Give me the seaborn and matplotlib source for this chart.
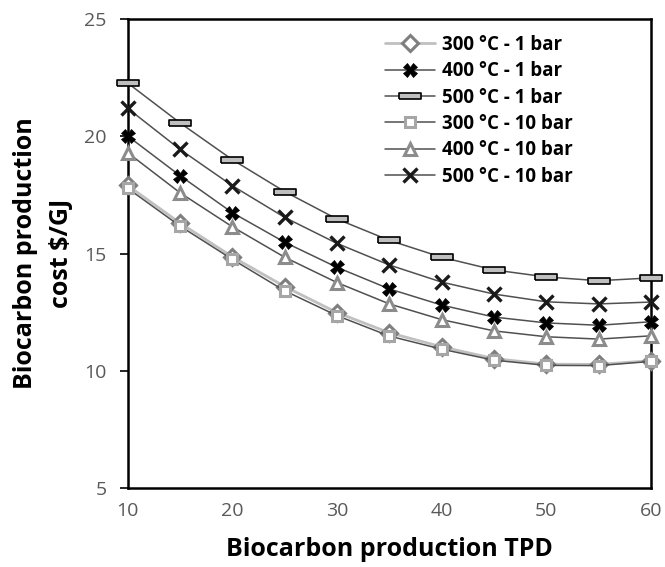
import matplotlib
matplotlib.use("Agg")
import matplotlib.pyplot as plt
import seaborn as sns
import numpy as np

# ---- data ----
tpd = [10, 15, 20, 25, 30, 35, 40, 45, 50, 55, 60]
cost_300_1 = [17.90, 16.30, 14.86, 13.59, 12.48, 11.62, 11.02, 10.52, 10.28, 10.27, 10.43]
cost_400_1 = [20.01, 18.32, 16.74, 15.48, 14.41, 13.49, 12.80, 12.29, 12.04, 11.94, 12.09]
cost_500_1 = [22.27, 20.57, 19.00, 17.64, 16.47, 15.56, 14.84, 14.30, 14.00, 13.84, 13.96]
cost_300_10 = [17.78, 16.17, 14.75, 13.41, 12.35, 11.48, 10.92, 10.45, 10.23, 10.22, 10.40]
cost_400_10 = [19.30, 17.59, 16.14, 14.84, 13.76, 12.85, 12.18, 11.70, 11.45, 11.35, 11.49]
cost_500_10 = [21.19, 19.44, 17.89, 16.54, 15.43, 14.51, 13.78, 13.27, 12.94, 12.85, 12.93]
labels = ["300 °C - 1 bar", "400 °C - 1 bar", "500 °C - 1 bar",
          "300 °C - 10 bar", "400 °C - 10 bar", "500 °C - 10 bar"]
x_ticks = [10, 20, 30, 40, 50, 60]
y_ticks = [5, 10, 15, 20, 25]

sns.set_theme(style="white")
plt.rcParams['font.family'] = ['Open Sans', 'DejaVu Sans']

fig = plt.figure(figsize=(6.65, 5.67), dpi=100)
ax = fig.add_axes([0.192, 0.1393, 0.787, 0.8272])

dash = [(-1, -0.3), (1, -0.3), (1, 0.3), (-1, 0.3), (-1, -0.3)]
styles = [
    dict(color="#c0c0c0", lw=2.0, marker="D", ms=8, mfc="white", mec="#7f7f7f", mew=2.2),
    dict(color="#505050", lw=1.1, marker="X", ms=10, mfc="black", mec="black", mew=0.5),
    dict(color="#505050", lw=1.1, marker=dash, ms=16, mfc="#bfbfbf", mec="black", mew=1.2),
    dict(color="#505050", lw=1.1, marker="s", ms=7, mfc="white", mec="#a6a6a6", mew=2.2),
    dict(color="#505050", lw=1.1, marker="^", ms=9, mfc="white", mec="#8c8c8c", mew=2.2),
    dict(color="#505050", lw=1.1, marker="x", ms=10, mfc="black", mec="#1a1a1a", mew=2.4),
]
series = [cost_300_1, cost_400_1, cost_500_1, cost_300_10, cost_400_10, cost_500_10]
for ys, lab, st in zip(series, labels, styles):
    sns.lineplot(x=tpd, y=ys, ax=ax, label=lab, clip_on=False, zorder=3, **st)

ax.set_xlim(10, 60)
ax.set_ylim(5, 25)
ax.set_xticks(x_ticks)
ax.set_yticks(y_ticks)
ax.tick_params(axis='y', direction='out', length=6, width=1.2, color='black',
               labelsize=14, labelcolor='#595959', pad=9, left=True)
ax.tick_params(axis='x', length=0, labelsize=14, labelcolor='#595959', pad=10)
for s in ax.spines.values():
    s.set_color('black')
    s.set_linewidth(1.8)

ax.set_xlabel("Biocarbon production TPD", fontsize=18, fontweight='bold', color='black', labelpad=12)
ax.set_ylabel("Biocarbon production\ncost \\$/GJ", fontsize=18, fontweight='bold', color='black',
              linespacing=1.55)
ax.yaxis.set_label_coords(-0.103, 0.5)

leg = ax.legend(loc='upper left', bbox_to_anchor=(0.477, 0.982), frameon=False,
                prop={'size': 13.5, 'weight': 'bold'}, handlelength=2.7,
                handletextpad=0.35, labelspacing=0.34, borderaxespad=0)
for t in leg.get_texts():
    t.set_color('black')

fig.savefig("out.png", dpi=100)
